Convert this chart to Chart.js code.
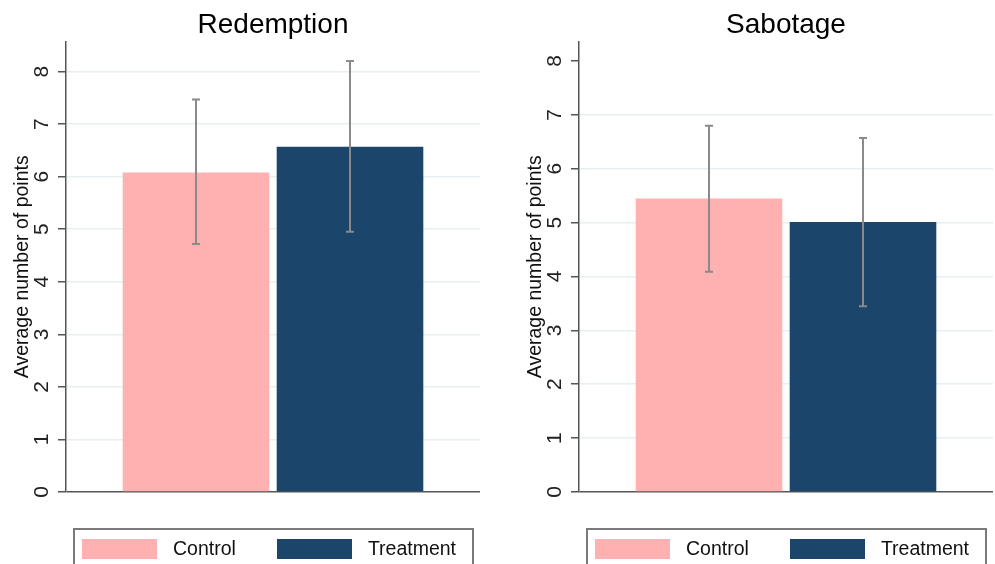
<!DOCTYPE html>
<html>
<head>
<meta charset="utf-8">
<script src="https://cdn.jsdelivr.net/npm/chart.js@4.4.1/dist/chart.umd.min.js"></script>
<style>
  body { margin: 0; background: #fff; width: 995px; height: 564px; overflow: hidden; position: relative; font-family: "Liberation Sans", Arial, sans-serif; }
  .panel { position: absolute; top: 0; width: 482px; height: 564px; }
  .legend { position: absolute; left: 73px; top: 528px; width: 397px; height: 50px; border: 2px solid #7a7a7a; display: flex; align-items: flex-start; }
  .item { display: flex; align-items: center; margin-top: 7px; }
  .swatch { width: 75px; height: 20px; }
  .lbl { font-size: 19.5px; color: #111; margin-left: 16px; margin-right: 41px; }
</style>
</head>
<body>
<div class="panel" style="left:0px"><canvas id="c1" width="482" height="564"></canvas><div class="legend" id="l1"></div></div>
<div class="panel" style="left:513px"><canvas id="c2" width="482" height="564"></canvas><div class="legend" id="l2"></div></div>
<script>
var categories = ["Control", "Treatment"];
var colors = ["#FFB1B1", "#1C456C"];

var redemptionMeans = [6.08, 6.57];
var redemptionLow = [4.72, 4.95];
var redemptionHigh = [7.47, 8.20];

var sabotageMeans = [5.45, 5.01];
var sabotageLow = [4.09, 3.45];
var sabotageHigh = [6.80, 6.57];

var yTickStep = 1;
var yAxisTitle = "Average number of points";

var errorBars = {
  id: "errorBars",
  afterDatasetsDraw: function(chart, args, opts) {
    var ctx = chart.ctx;
    var yScale = chart.scales.y;
    ctx.save();
    ctx.strokeStyle = "#8a8a8a";
    ctx.lineWidth = 2;
    chart.data.datasets.forEach(function(ds, i) {
      var bar = chart.getDatasetMeta(i).data[0];
      var x = bar.x;
      var yl = yScale.getPixelForValue(opts.low[i]);
      var yh = yScale.getPixelForValue(opts.high[i]);
      ctx.beginPath();
      ctx.moveTo(x, yl); ctx.lineTo(x, yh);
      ctx.moveTo(x - 4, yl); ctx.lineTo(x + 4, yl);
      ctx.moveTo(x - 4, yh); ctx.lineTo(x + 4, yh);
      ctx.stroke();
    });
    ctx.restore();
  }
};

function makePanel(canvasId, legendId, title, means, low, high, yMax, hideTopGrid) {
  var datasets = categories.map(function(c, i) {
    return { label: c, data: [means[i]], backgroundColor: colors[i], barPercentage: 0.952, categoryPercentage: 0.744 };
  });

  var chart = new Chart(document.getElementById(canvasId), {
    type: "bar",
    data: { labels: [""], datasets: datasets },
    plugins: [errorBars],
    options: {
      responsive: false,
      animation: false,
      layout: { padding: { left: 0, right: 2, top: 0, bottom: 72 } },
      plugins: {
        legend: { display: false },
        tooltip: { enabled: false },
        title: {
          display: true, text: title, fullSize: false, color: "#000",
          font: { family: "Liberation Sans", size: 28, weight: "normal" },
          padding: { top: 8, bottom: 0 }
        },
        errorBars: { low: low, high: high }
      },
      scales: {
        x: { display: false },
        y: {
          min: 0, max: yMax,
          afterFit: function(s) { s.width = 66; },
          border: { display: true, color: "#555", width: 1.5 },
          grid: {
            color: function(c) {
              if (c.tick && c.tick.value === 0) return "#555";
              if (hideTopGrid && c.tick && c.tick.value === 8) return "rgba(0,0,0,0)";
              return "#E6EFF1";
            },
            lineWidth: 1.5,
            tickColor: "#555", tickLength: 8
          },
          ticks: {
            stepSize: yTickStep, includeBounds: false,
            minRotation: 90, maxRotation: 90, crossAlign: "center", padding: 10,
            color: "#222", font: { family: "Liberation Sans", size: 21 }
          },
          title: {
            display: true, text: yAxisTitle, color: "#111",
            font: { family: "Liberation Sans", size: 19.5 },
            padding: { top: 11, bottom: 0 }
          }
        }
      }
    }
  });

  var legend = document.getElementById(legendId);
  chart.data.datasets.forEach(function(ds, i) {
    var item = document.createElement("div");
    item.className = "item";
    item.style.marginLeft = i === 0 ? "7px" : "0px";
    var sw = document.createElement("div");
    sw.className = "swatch";
    sw.style.background = ds.backgroundColor;
    var t = document.createElement("span");
    t.className = "lbl";
    t.textContent = ds.label;
    item.appendChild(sw); item.appendChild(t);
    legend.appendChild(item);
  });
  return chart;
}

makePanel("c1", "l1", "Redemption", redemptionMeans, redemptionLow, redemptionHigh, 8.57, false);
makePanel("c2", "l2", "Sabotage", sabotageMeans, sabotageLow, sabotageHigh, 8.36, true);
</script>
</body>
</html>
